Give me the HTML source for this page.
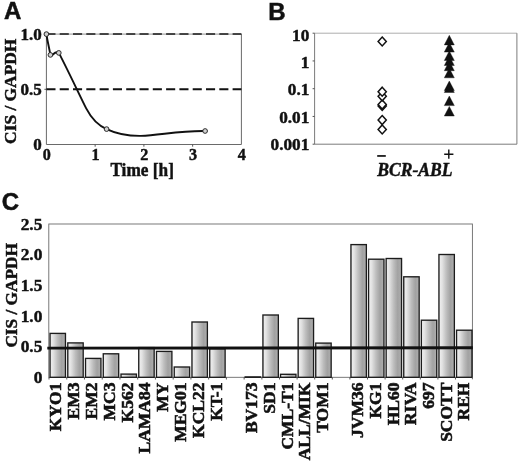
<!DOCTYPE html>
<html><head><meta charset="utf-8"><title>Figure</title>
<style>
html,body{margin:0;padding:0;background:#fff;}
body{width:520px;height:461px;overflow:hidden;font-family:"Liberation Serif",serif;}
svg{display:block;filter:grayscale(1) blur(0.35px);}
text{fill:#111;}
</style></head>
<body>
<svg width="520" height="461" viewBox="0 0 520 461">
<defs>
<linearGradient id="bg" x1="0" y1="0" x2="1" y2="0">
<stop offset="0" stop-color="#f0f0f0"/>
<stop offset="0.2" stop-color="#e3e3e3"/>
<stop offset="0.5" stop-color="#bcbcbc"/>
<stop offset="0.75" stop-color="#a2a2a2"/>
<stop offset="0.92" stop-color="#aaaaaa"/>
<stop offset="1" stop-color="#c2c2c2"/>
</linearGradient>
</defs>
<rect width="520" height="461" fill="#fff"/>
<g id="panelA">
<path d="M46.4 34.1 V144.5 H241.4 V34.1" fill="none" stroke="#6a6a6a" stroke-width="1"/>
<path d="M46.4 34.1 H241.4" fill="none" stroke="#777" stroke-width="0.8"/>
<path d="M95.15 144.5 v2.2" stroke="#555" stroke-width="1"/>
<path d="M143.90 144.5 v2.2" stroke="#555" stroke-width="1"/>
<path d="M192.65 144.5 v2.2" stroke="#555" stroke-width="1"/>
<path d="M44.4 89.30 h2" stroke="#555" stroke-width="1"/>
<path d="M46.4 34.10 H241.4" stroke="#1a1a1a" stroke-width="1.5" stroke-dasharray="9.1 4.2"/>
<path d="M46.4 89.30 H241.4" stroke="#111" stroke-width="2.1" stroke-dasharray="9.1 4.2"/>
<path d="M46.4 34.1 C47.6 42.1 49.2 47.9 50.4 54.9 C51.9 57.9 54.8 49.4 58.8 52.9 C63.8 61.9 80.2 96.4 86.2 108.4 C92 119.6 98.5 125.6 106.6 129.1 C117 134 129 136.1 141 135.9 C159 135.6 178 130.6 205.1 131.0" fill="none" stroke="#111" stroke-width="1.9" stroke-linejoin="round"/>
<circle cx="46.4" cy="34.1" r="2.35" fill="#d0d0d0" stroke="#2a2a2a" stroke-width="1"/>
<circle cx="50.4" cy="54.9" r="2.35" fill="#d0d0d0" stroke="#2a2a2a" stroke-width="1"/>
<circle cx="58.8" cy="52.9" r="2.35" fill="#d0d0d0" stroke="#2a2a2a" stroke-width="1"/>
<circle cx="106.6" cy="129.1" r="2.35" fill="#d0d0d0" stroke="#2a2a2a" stroke-width="1"/>
<circle cx="205.1" cy="131.0" r="2.35" fill="#d0d0d0" stroke="#2a2a2a" stroke-width="1"/>
<text transform="translate(41.80 39.50) scale(1.0 1)" text-anchor="end" font-family="Liberation Serif, serif" font-weight="bold" stroke="#111" stroke-width="0.45"  font-size="17.0">1.0</text>
<text transform="translate(41.80 94.70) scale(1.0 1)" text-anchor="end" font-family="Liberation Serif, serif" font-weight="bold" stroke="#111" stroke-width="0.45"  font-size="17.0">0.5</text>
<text transform="translate(41.80 149.90) scale(1.0 1)" text-anchor="end" font-family="Liberation Serif, serif" font-weight="bold" stroke="#111" stroke-width="0.45"  font-size="17.0">0</text>
<text transform="translate(46.80 160.10) scale(0.96 1)" text-anchor="middle" font-family="Liberation Serif, serif" font-weight="bold" stroke="#111" stroke-width="0.45"  font-size="16.8">0</text>
<text transform="translate(95.55 160.10) scale(0.96 1)" text-anchor="middle" font-family="Liberation Serif, serif" font-weight="bold" stroke="#111" stroke-width="0.45"  font-size="16.8">1</text>
<text transform="translate(144.30 160.10) scale(0.96 1)" text-anchor="middle" font-family="Liberation Serif, serif" font-weight="bold" stroke="#111" stroke-width="0.45"  font-size="16.8">2</text>
<text transform="translate(193.05 160.10) scale(0.96 1)" text-anchor="middle" font-family="Liberation Serif, serif" font-weight="bold" stroke="#111" stroke-width="0.45"  font-size="16.8">3</text>
<text transform="translate(241.80 160.10) scale(0.96 1)" text-anchor="middle" font-family="Liberation Serif, serif" font-weight="bold" stroke="#111" stroke-width="0.45"  font-size="16.8">4</text>
<text transform="translate(110.40 176.00) scale(0.94 1)" text-anchor="start" font-family="Liberation Serif, serif" font-weight="bold" stroke="#111" stroke-width="0.45"  font-size="18.4">Time [h]</text>
<text transform="translate(16.00 143.90) rotate(-90) scale(1.054 1)" text-anchor="start" font-family="Liberation Serif, serif" font-weight="bold" stroke="#111" stroke-width="0.45"  font-size="16.5">CIS / GAPDH</text>
<text x="3.9" y="19.2" font-family="Liberation Sans, sans-serif" font-weight="bold" font-size="24" stroke="#111" stroke-width="0.5">A</text>
</g>
<g id="panelB">
<path d="M314.6 33.2 V144.2 H516.9 V33.2" fill="none" stroke="#6c6c6c" stroke-width="0.9"/>
<path d="M314.6 33.2 H516.9" fill="none" stroke="#8a8a8a" stroke-width="0.7"/>
<path d="M312.6 33.20 h2" stroke="#555" stroke-width="1"/>
<text transform="translate(309.30 41.20) scale(1.02 1)" text-anchor="end" font-family="Liberation Serif, serif" font-weight="bold" stroke="#111" stroke-width="0.45"  font-size="16.9">10</text>
<path d="M312.6 60.95 h2" stroke="#555" stroke-width="1"/>
<text transform="translate(309.30 67.60) scale(1.02 1)" text-anchor="end" font-family="Liberation Serif, serif" font-weight="bold" stroke="#111" stroke-width="0.45"  font-size="16.9">1</text>
<path d="M312.6 88.70 h2" stroke="#555" stroke-width="1"/>
<text transform="translate(309.30 94.90) scale(1.02 1)" text-anchor="end" font-family="Liberation Serif, serif" font-weight="bold" stroke="#111" stroke-width="0.45"  font-size="16.9">0.1</text>
<path d="M312.6 116.45 h2" stroke="#555" stroke-width="1"/>
<text transform="translate(309.30 123.00) scale(1.02 1)" text-anchor="end" font-family="Liberation Serif, serif" font-weight="bold" stroke="#111" stroke-width="0.45"  font-size="16.9">0.01</text>
<path d="M312.6 144.20 h2" stroke="#555" stroke-width="1"/>
<text transform="translate(309.30 149.50) scale(1.02 1)" text-anchor="end" font-family="Liberation Serif, serif" font-weight="bold" stroke="#111" stroke-width="0.45"  font-size="16.9">0.001</text>
<path d="M382.2 124.90 l4.1 4.5 l-4.1 4.5 l-4.1 -4.5 Z" fill="#fff" stroke="#111" stroke-width="1.5" stroke-linejoin="miter"/>
<path d="M382.2 115.60 l4.1 4.5 l-4.1 4.5 l-4.1 -4.5 Z" fill="#fff" stroke="#111" stroke-width="1.5" stroke-linejoin="miter"/>
<path d="M382.2 101.40 l4.1 4.5 l-4.1 4.5 l-4.1 -4.5 Z" fill="#fff" stroke="#111" stroke-width="1.5" stroke-linejoin="miter"/>
<path d="M382.2 100.10 l4.1 4.5 l-4.1 4.5 l-4.1 -4.5 Z" fill="#fff" stroke="#111" stroke-width="1.5" stroke-linejoin="miter"/>
<path d="M382.2 91.80 l4.1 4.5 l-4.1 4.5 l-4.1 -4.5 Z" fill="#fff" stroke="#111" stroke-width="1.5" stroke-linejoin="miter"/>
<path d="M382.2 87.20 l4.1 4.5 l-4.1 4.5 l-4.1 -4.5 Z" fill="#fff" stroke="#111" stroke-width="1.5" stroke-linejoin="miter"/>
<path d="M382.2 37.00 l4.1 4.5 l-4.1 4.5 l-4.1 -4.5 Z" fill="#fff" stroke="#111" stroke-width="1.5" stroke-linejoin="miter"/>
<path d="M449.3 35.3 l5 9.6 h-10 Z" fill="#111" stroke="#111" stroke-width="0.4"/>
<path d="M449.3 42.5 l5 9.6 h-10 Z" fill="#111" stroke="#111" stroke-width="0.4"/>
<path d="M449.3 50.9 l5 9.6 h-10 Z" fill="#111" stroke="#111" stroke-width="0.4"/>
<path d="M449.3 55.9 l5 9.6 h-10 Z" fill="#111" stroke="#111" stroke-width="0.4"/>
<path d="M449.3 61.1 l5 9.6 h-10 Z" fill="#111" stroke="#111" stroke-width="0.4"/>
<path d="M449.3 68.2 l5 9.6 h-10 Z" fill="#111" stroke="#111" stroke-width="0.4"/>
<path d="M449.3 81.0 l5 9.6 h-10 Z" fill="#111" stroke="#111" stroke-width="0.4"/>
<path d="M449.3 82.9 l5 9.6 h-10 Z" fill="#111" stroke="#111" stroke-width="0.4"/>
<path d="M449.3 96.0 l5 9.6 h-10 Z" fill="#111" stroke="#111" stroke-width="0.4"/>
<path d="M449.3 106.4 l5 9.6 h-10 Z" fill="#111" stroke="#111" stroke-width="0.4"/>
<rect x="377.2" y="155.1" width="8.6" height="1.7" fill="#111"/>
<path d="M448.8 149.6 v9.2 M444.2 154.2 h9.2" stroke="#111" stroke-width="1.4"/>
<text transform="translate(377.20 175.60) scale(0.958 1)" text-anchor="start" font-family="Liberation Serif, serif" font-weight="bold" stroke="#111" stroke-width="0.45" font-style="italic" font-size="18.4">BCR-ABL</text>
<text x="268.2" y="19.6" font-family="Liberation Sans, sans-serif" font-weight="bold" font-size="24" stroke="#111" stroke-width="0.5">B</text>
</g>
<g id="panelC">
<rect x="48.8" y="224.0" width="423.59999999999997" height="153.3" fill="none" stroke="#6a6a6a" stroke-width="0.9"/>
<path d="M49.00 377.3 v2.2" stroke="#444" stroke-width="0.9"/>
<rect x="50.05" y="333.40" width="15.4" height="43.90" fill="url(#bg)" stroke="#1c1c1c" stroke-width="1.35"/>
<text transform="translate(61.25 382.60) rotate(-90) scale(1.1 1)" text-anchor="end" font-family="Liberation Serif, serif" font-weight="bold" stroke="#111" stroke-width="0.45" style="stroke-width:0.55" font-size="15.9">KYO1</text>
<path d="M66.74 377.3 v2.2" stroke="#444" stroke-width="0.9"/>
<rect x="67.79" y="342.90" width="15.4" height="34.40" fill="url(#bg)" stroke="#1c1c1c" stroke-width="1.35"/>
<text transform="translate(79.07 382.60) rotate(-90) scale(1.1 1)" text-anchor="end" font-family="Liberation Serif, serif" font-weight="bold" stroke="#111" stroke-width="0.45" style="stroke-width:0.55" font-size="15.9">EM3</text>
<path d="M84.48 377.3 v2.2" stroke="#444" stroke-width="0.9"/>
<rect x="85.53" y="358.40" width="15.4" height="18.90" fill="url(#bg)" stroke="#1c1c1c" stroke-width="1.35"/>
<text transform="translate(96.89 382.60) rotate(-90) scale(1.1 1)" text-anchor="end" font-family="Liberation Serif, serif" font-weight="bold" stroke="#111" stroke-width="0.45" style="stroke-width:0.55" font-size="15.9">EM2</text>
<path d="M102.22 377.3 v2.2" stroke="#444" stroke-width="0.9"/>
<rect x="103.27" y="353.80" width="15.4" height="23.50" fill="url(#bg)" stroke="#1c1c1c" stroke-width="1.35"/>
<text transform="translate(114.71 382.60) rotate(-90) scale(1.1 1)" text-anchor="end" font-family="Liberation Serif, serif" font-weight="bold" stroke="#111" stroke-width="0.45" style="stroke-width:0.55" font-size="15.9">MC3</text>
<path d="M119.96 377.3 v2.2" stroke="#444" stroke-width="0.9"/>
<rect x="121.01" y="374.10" width="15.4" height="3.20" fill="url(#bg)" stroke="#1c1c1c" stroke-width="1.35"/>
<text transform="translate(132.53 382.60) rotate(-90) scale(1.1 1)" text-anchor="end" font-family="Liberation Serif, serif" font-weight="bold" stroke="#111" stroke-width="0.45" style="stroke-width:0.55" font-size="15.9">K562</text>
<path d="M137.70 377.3 v2.2" stroke="#444" stroke-width="0.9"/>
<rect x="138.75" y="347.60" width="15.4" height="29.70" fill="url(#bg)" stroke="#1c1c1c" stroke-width="1.35"/>
<text transform="translate(150.35 382.60) rotate(-90) scale(1.1 1)" text-anchor="end" font-family="Liberation Serif, serif" font-weight="bold" stroke="#111" stroke-width="0.45" style="stroke-width:0.55" font-size="15.9">LAMA84</text>
<path d="M155.44 377.3 v2.2" stroke="#444" stroke-width="0.9"/>
<rect x="156.49" y="351.40" width="15.4" height="25.90" fill="url(#bg)" stroke="#1c1c1c" stroke-width="1.35"/>
<text transform="translate(168.17 382.60) rotate(-90) scale(1.1 1)" text-anchor="end" font-family="Liberation Serif, serif" font-weight="bold" stroke="#111" stroke-width="0.45" style="stroke-width:0.55" font-size="15.9">MY</text>
<path d="M173.18 377.3 v2.2" stroke="#444" stroke-width="0.9"/>
<rect x="174.23" y="367.00" width="15.4" height="10.30" fill="url(#bg)" stroke="#1c1c1c" stroke-width="1.35"/>
<text transform="translate(185.99 382.60) rotate(-90) scale(1.1 1)" text-anchor="end" font-family="Liberation Serif, serif" font-weight="bold" stroke="#111" stroke-width="0.45" style="stroke-width:0.55" font-size="15.9">MEG01</text>
<path d="M190.92 377.3 v2.2" stroke="#444" stroke-width="0.9"/>
<rect x="191.97" y="322.00" width="15.4" height="55.30" fill="url(#bg)" stroke="#1c1c1c" stroke-width="1.35"/>
<text transform="translate(203.81 382.60) rotate(-90) scale(1.1 1)" text-anchor="end" font-family="Liberation Serif, serif" font-weight="bold" stroke="#111" stroke-width="0.45" style="stroke-width:0.55" font-size="15.9">KCL22</text>
<path d="M208.66 377.3 v2.2" stroke="#444" stroke-width="0.9"/>
<rect x="209.71" y="348.80" width="15.4" height="28.50" fill="url(#bg)" stroke="#1c1c1c" stroke-width="1.35"/>
<text transform="translate(221.63 382.60) rotate(-90) scale(1.1 1)" text-anchor="end" font-family="Liberation Serif, serif" font-weight="bold" stroke="#111" stroke-width="0.45" style="stroke-width:0.55" font-size="15.9">KT-1</text>
<path d="M226.40 377.3 v2.2" stroke="#444" stroke-width="0.9"/>
<path d="M244.14 377.3 v2.2" stroke="#444" stroke-width="0.9"/>
<rect x="245.19" y="376.90" width="15.4" height="0.40" fill="url(#bg)" stroke="#1c1c1c" stroke-width="1.35"/>
<text transform="translate(257.27 382.60) rotate(-90) scale(1.1 1)" text-anchor="end" font-family="Liberation Serif, serif" font-weight="bold" stroke="#111" stroke-width="0.45" style="stroke-width:0.55" font-size="15.9">BV173</text>
<path d="M261.88 377.3 v2.2" stroke="#444" stroke-width="0.9"/>
<rect x="262.93" y="315.00" width="15.4" height="62.30" fill="url(#bg)" stroke="#1c1c1c" stroke-width="1.35"/>
<text transform="translate(275.09 382.60) rotate(-90) scale(1.1 1)" text-anchor="end" font-family="Liberation Serif, serif" font-weight="bold" stroke="#111" stroke-width="0.45" style="stroke-width:0.55" font-size="15.9">SD1</text>
<path d="M279.50 377.3 v2.2" stroke="#444" stroke-width="0.9"/>
<rect x="280.55" y="374.30" width="15.4" height="3.00" fill="url(#bg)" stroke="#1c1c1c" stroke-width="1.35"/>
<text transform="translate(292.70 382.60) rotate(-90) scale(1.1 1)" text-anchor="end" font-family="Liberation Serif, serif" font-weight="bold" stroke="#111" stroke-width="0.45" style="stroke-width:0.55" font-size="15.9">CML-T1</text>
<path d="M297.10 377.3 v2.2" stroke="#444" stroke-width="0.9"/>
<rect x="298.15" y="318.40" width="15.4" height="58.90" fill="url(#bg)" stroke="#1c1c1c" stroke-width="1.35"/>
<text transform="translate(310.35 382.60) rotate(-90) scale(1.1 1)" text-anchor="end" font-family="Liberation Serif, serif" font-weight="bold" stroke="#111" stroke-width="0.45" style="stroke-width:0.55" font-size="15.9">ALL/MIK</text>
<path d="M314.70 377.3 v2.2" stroke="#444" stroke-width="0.9"/>
<rect x="315.75" y="343.10" width="15.4" height="34.20" fill="url(#bg)" stroke="#1c1c1c" stroke-width="1.35"/>
<text transform="translate(328.00 382.60) rotate(-90) scale(1.1 1)" text-anchor="end" font-family="Liberation Serif, serif" font-weight="bold" stroke="#111" stroke-width="0.45" style="stroke-width:0.55" font-size="15.9">TOM1</text>
<path d="M332.30 377.3 v2.2" stroke="#444" stroke-width="0.9"/>
<path d="M349.90 377.3 v2.2" stroke="#444" stroke-width="0.9"/>
<rect x="350.95" y="244.60" width="15.4" height="132.70" fill="url(#bg)" stroke="#1c1c1c" stroke-width="1.35"/>
<text transform="translate(363.30 382.60) rotate(-90) scale(1.1 1)" text-anchor="end" font-family="Liberation Serif, serif" font-weight="bold" stroke="#111" stroke-width="0.45" style="stroke-width:0.55" font-size="15.9">JVM36</text>
<path d="M367.50 377.3 v2.2" stroke="#444" stroke-width="0.9"/>
<rect x="368.55" y="259.20" width="15.4" height="118.10" fill="url(#bg)" stroke="#1c1c1c" stroke-width="1.35"/>
<text transform="translate(380.95 382.60) rotate(-90) scale(1.1 1)" text-anchor="end" font-family="Liberation Serif, serif" font-weight="bold" stroke="#111" stroke-width="0.45" style="stroke-width:0.55" font-size="15.9">KG1</text>
<path d="M385.10 377.3 v2.2" stroke="#444" stroke-width="0.9"/>
<rect x="386.15" y="258.50" width="15.4" height="118.80" fill="url(#bg)" stroke="#1c1c1c" stroke-width="1.35"/>
<text transform="translate(398.60 382.60) rotate(-90) scale(1.1 1)" text-anchor="end" font-family="Liberation Serif, serif" font-weight="bold" stroke="#111" stroke-width="0.45" style="stroke-width:0.55" font-size="15.9">HL60</text>
<path d="M402.70 377.3 v2.2" stroke="#444" stroke-width="0.9"/>
<rect x="403.75" y="276.80" width="15.4" height="100.50" fill="url(#bg)" stroke="#1c1c1c" stroke-width="1.35"/>
<text transform="translate(416.25 382.60) rotate(-90) scale(1.1 1)" text-anchor="end" font-family="Liberation Serif, serif" font-weight="bold" stroke="#111" stroke-width="0.45" style="stroke-width:0.55" font-size="15.9">RIVA</text>
<path d="M420.30 377.3 v2.2" stroke="#444" stroke-width="0.9"/>
<rect x="421.35" y="320.20" width="15.4" height="57.10" fill="url(#bg)" stroke="#1c1c1c" stroke-width="1.35"/>
<text transform="translate(433.90 382.60) rotate(-90) scale(1.1 1)" text-anchor="end" font-family="Liberation Serif, serif" font-weight="bold" stroke="#111" stroke-width="0.45" style="stroke-width:0.55" font-size="15.9">697</text>
<path d="M437.90 377.3 v2.2" stroke="#444" stroke-width="0.9"/>
<rect x="438.95" y="254.50" width="15.4" height="122.80" fill="url(#bg)" stroke="#1c1c1c" stroke-width="1.35"/>
<text transform="translate(451.55 382.60) rotate(-90) scale(1.1 1)" text-anchor="end" font-family="Liberation Serif, serif" font-weight="bold" stroke="#111" stroke-width="0.45" style="stroke-width:0.55" font-size="15.9">SCOTT</text>
<path d="M455.50 377.3 v2.2" stroke="#444" stroke-width="0.9"/>
<rect x="456.55" y="330.20" width="15.4" height="47.10" fill="url(#bg)" stroke="#1c1c1c" stroke-width="1.35"/>
<text transform="translate(469.20 382.60) rotate(-90) scale(1.1 1)" text-anchor="end" font-family="Liberation Serif, serif" font-weight="bold" stroke="#111" stroke-width="0.45" style="stroke-width:0.55" font-size="15.9">REH</text>
<path d="M472.4 377.3 v2" stroke="#555" stroke-width="0.9"/>
<path d="M47.3 348.15 L472.79999999999995 347.75" stroke="#111" stroke-width="2.9"/>
<text transform="translate(42.30 383.00) scale(1.02 1)" text-anchor="end" font-family="Liberation Serif, serif" font-weight="bold" stroke="#111" stroke-width="0.45"  font-size="17.0">0</text>
<text transform="translate(42.30 352.34) scale(1.02 1)" text-anchor="end" font-family="Liberation Serif, serif" font-weight="bold" stroke="#111" stroke-width="0.45"  font-size="17.0">0.5</text>
<text transform="translate(42.30 321.68) scale(1.02 1)" text-anchor="end" font-family="Liberation Serif, serif" font-weight="bold" stroke="#111" stroke-width="0.45"  font-size="17.0">1.0</text>
<text transform="translate(42.30 291.02) scale(1.02 1)" text-anchor="end" font-family="Liberation Serif, serif" font-weight="bold" stroke="#111" stroke-width="0.45"  font-size="17.0">1.5</text>
<text transform="translate(42.30 260.36) scale(1.02 1)" text-anchor="end" font-family="Liberation Serif, serif" font-weight="bold" stroke="#111" stroke-width="0.45"  font-size="17.0">2.0</text>
<text transform="translate(42.30 229.70) scale(1.02 1)" text-anchor="end" font-family="Liberation Serif, serif" font-weight="bold" stroke="#111" stroke-width="0.45"  font-size="17.0">2.5</text>
<text transform="translate(17.30 347.60) rotate(-90) scale(1.046 1)" text-anchor="start" font-family="Liberation Serif, serif" font-weight="bold" stroke="#111" stroke-width="0.45"  font-size="16.5">CIS / GAPDH</text>
<text x="1.7" y="209.9" font-family="Liberation Sans, sans-serif" font-weight="bold" font-size="24" stroke="#111" stroke-width="0.5">C</text>
</g>
</svg>
</body></html>
